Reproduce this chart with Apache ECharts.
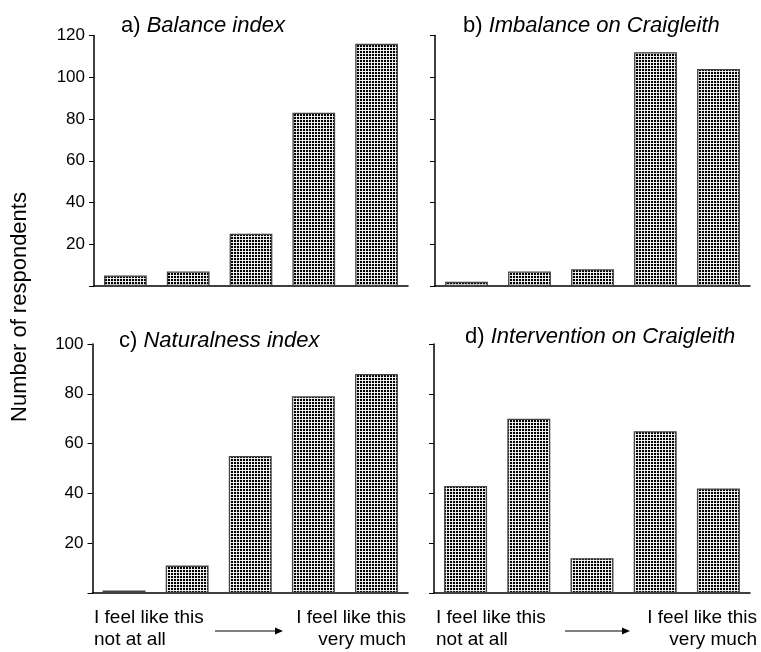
<!DOCTYPE html>
<html>
<head>
<meta charset="utf-8">
<script src="https://cdn.jsdelivr.net/npm/echarts@6/dist/echarts.min.js"></script>
<style>
html,body{margin:0;padding:0;background:#fff;}
#chart{width:761px;height:652px;}
</style>
</head>
<body>
<div id="chart"></div>
<script>
// ---- data ----
var categories = ['1', '2', '3', '4', '5'];
var balanceIndex = [5, 7, 25, 83, 116];
var imbalanceCraigleith = [2, 7, 8, 112, 104];
var naturalnessIndex = [1, 11, 55, 79, 88];
var interventionCraigleith = [43, 70, 14, 65, 42];
var panelLetters = ['a)', 'b)', 'c)', 'd)'];
var panelNames = ['Balance index', 'Imbalance on Craigleith', 'Naturalness index', 'Intervention on Craigleith'];
var topTicksMax = 120;
var bottomTicksMax = 100;
var tickStep = 20;
var yAxisName = 'Number of respondents';
var lowLabel = 'I feel like this\nnot at all';
var highLabel = 'I feel like this\nvery much';

// ---- pattern ----
function makePattern() {
  var c = document.createElement('canvas');
  c.width = 3; c.height = 3;
  var ctx = c.getContext('2d');
  ctx.fillStyle = '#e6e6e6';
  ctx.fillRect(0, 0, 3, 3);
  ctx.fillStyle = '#ffffff';
  ctx.fillRect(2, 2, 1, 1);
  ctx.fillStyle = '#000000';
  ctx.fillRect(0, 0, 2, 2);
  return c;
}
var pattern = {image: makePattern(), repeat: 'repeat'};

var FONT = 'Liberation Sans, Arial, Helvetica, sans-serif';

var grids = [
  {left: 94, top: 35.5, width: 314, height: 250.5},
  {left: 435, top: 35.5, width: 315, height: 250.5},
  {left: 92.5, top: 344, width: 315.5, height: 249},
  {left: 434, top: 344, width: 316, height: 249}
];
var seriesData = [balanceIndex, imbalanceCraigleith, naturalnessIndex, interventionCraigleith];
var maxes = [topTicksMax, topTicksMax, bottomTicksMax, bottomTicksMax];

var xAxes = [], yAxes = [], series = [], titles = [];
for (var i = 0; i < 4; i++) {
  xAxes.push({
    gridIndex: i, type: 'category', data: categories,
    axisLine: {show: true, lineStyle: {color: '#000', width: 1.5}},
    axisTick: {show: false}, axisLabel: {show: false}, splitLine: {show: false}
  });
  var showLabels = (i % 2 === 0);
  yAxes.push({
    gridIndex: i, type: 'value', min: 0, max: maxes[i], interval: tickStep,
    axisLine: {show: true, lineStyle: {color: '#000', width: 1.5}},
    axisTick: {show: true, length: 5, lineStyle: {color: '#000', width: 1}},
    axisLabel: {
      show: showLabels, fontFamily: FONT, fontSize: 17, color: '#000', margin: 9,
      formatter: function (v) { return v === 0 ? '' : String(v); }
    },
    splitLine: {show: false}
  });
  series.push({
    type: 'bar', xAxisIndex: i, yAxisIndex: i, data: seriesData[i],
    barCategoryGap: '32%',
    itemStyle: {color: pattern, borderColor: '#444', borderWidth: 1.3},
    emphasis: {disabled: true},
    animation: false
  });
}

var titlePos = [
  {left: 121, top: 15},
  {left: 463, top: 15},
  {left: 119, top: 330},
  {left: 465, top: 326}
];
for (var j = 0; j < 4; j++) {
  titles.push({
    text: '{n|' + panelLetters[j] + '} {it|' + panelNames[j] + '}',
    left: titlePos[j].left, top: titlePos[j].top, padding: 0,
    textStyle: {
      fontWeight: 'normal', fontSize: 22, fontFamily: FONT,
      rich: {
        n: {fontFamily: FONT, fontSize: 22, fontWeight: 'normal', color: '#000'},
        it: {fontFamily: FONT, fontSize: 22, fontWeight: 'normal', fontStyle: 'italic', color: '#000'}
      }
    }
  });
}

var graphics = [
  {type: 'text', x: 20, y: 307, rotation: Math.PI / 2,
   style: {text: yAxisName, font: '22px ' + FONT, fill: '#000', align: 'center', verticalAlign: 'middle'}}
];
var labelSets = [
  {lx: 94, rx: 406, ax1: 215, ax2: 283},
  {lx: 436, rx: 757, ax1: 565, ax2: 630}
];
labelSets.forEach(function (s) {
  graphics.push({type: 'text', x: s.lx, y: 607,
    style: {text: lowLabel, font: '19px ' + FONT, fill: '#000', align: 'left', lineHeight: 22}});
  graphics.push({type: 'text', x: s.rx, y: 607,
    style: {text: highLabel, font: '19px ' + FONT, fill: '#000', align: 'right', lineHeight: 22}});
  graphics.push({type: 'line', shape: {x1: s.ax1, y1: 631, x2: s.ax2 - 6, y2: 631},
    style: {stroke: '#000', lineWidth: 1}});
  graphics.push({type: 'polygon', shape: {points: [[s.ax2 - 8, 627.5], [s.ax2, 631], [s.ax2 - 8, 634.5]]},
    style: {fill: '#000'}});
});

var chart = echarts.init(document.getElementById('chart'), null, {renderer: 'canvas'});
chart.setOption({
  animation: false,
  backgroundColor: '#fff',
  title: titles,
  grid: grids,
  xAxis: xAxes,
  yAxis: yAxes,
  series: series,
  graphic: graphics
});
</script>
</body>
</html>
